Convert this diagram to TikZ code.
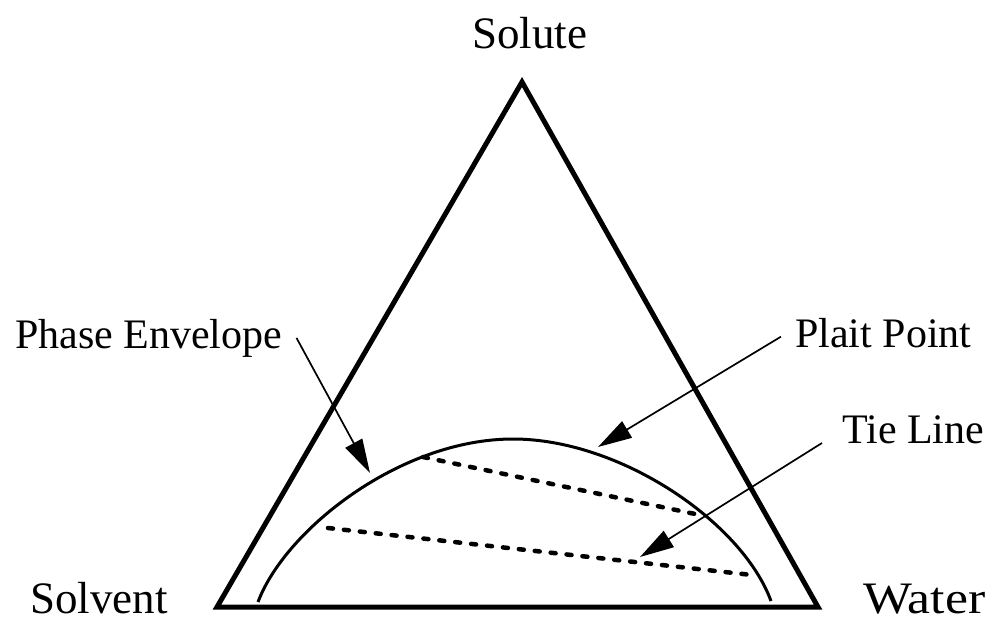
\documentclass[tikz,border=0pt]{standalone}
\usepackage{fontspec}
\setmainfont{Liberation Serif}
\usetikzlibrary{arrows.meta}
\begin{document}
\begin{tikzpicture}[x=1pt,y=-1pt,
  vlabel/.style={font=\fontsize{45}{54}\selectfont, inner sep=0pt, anchor=base west},
  alabel/.style={font=\fontsize{42}{50}\selectfont, inner sep=14pt, anchor=base west},
  tri/.style={line width=5pt, line join=miter},
  env/.style={line width=3pt},
  tie/.style={line width=4.5pt, dash pattern=on 5pt off 11pt, line cap=round},
  pointer/.style={line width=1.7pt, -{Triangle[length=34pt,width=19pt]}}
]
\useasboundingbox (0,0) rectangle (996,622);

% vertex labels
\node[vlabel] (solute) at (472,48) {Solute};
\node[vlabel] (solvent) at (30,613) {Solvent};
\node[vlabel] (water) at (863,613) {\scalebox{1.15}[1]{Water}};

% triangle
\coordinate (A) at (522,82);
\coordinate (B) at (217,607);
\coordinate (C) at (818,607);
\draw[tri] (A) -- (B) -- (C) -- cycle;

% phase envelope
\coordinate (eL) at (258,602);
\coordinate (eT) at (513,439);
\coordinate (eR) at (771,601);
\draw[env] (eL) .. controls (285,530) and (400,439) .. (eT)
                .. controls (620,439) and (742,522) .. (eR);

% tie lines
\coordinate (t1a) at (423,457);
\coordinate (t1b) at (700,515);
\coordinate (t2a) at (328,528);
\coordinate (t2b) at (752,575);
\draw[tie] (t1a) -- (t1b);
\draw[tie] (t2a) -- (t2b);

% annotation labels
\node[alabel] (pe) at (1,348) {Phase Envelope};
\node[alabel] (pp) at (781,347) {Plait Point};
\node[alabel] (tl) at (828,443) {Tie Line};

\coordinate (peTip) at (370,473);
\coordinate (ppTip) at (598,447);
\coordinate (tlTip) at (640,557);
\draw[pointer] (pe.east) -- (peTip);
\draw[pointer] ([yshift=-4pt]pp.west) -- (ppTip);
\draw[pointer] ([xshift=-6pt]tl.base west) -- (tlTip);
\end{tikzpicture}
\end{document}
